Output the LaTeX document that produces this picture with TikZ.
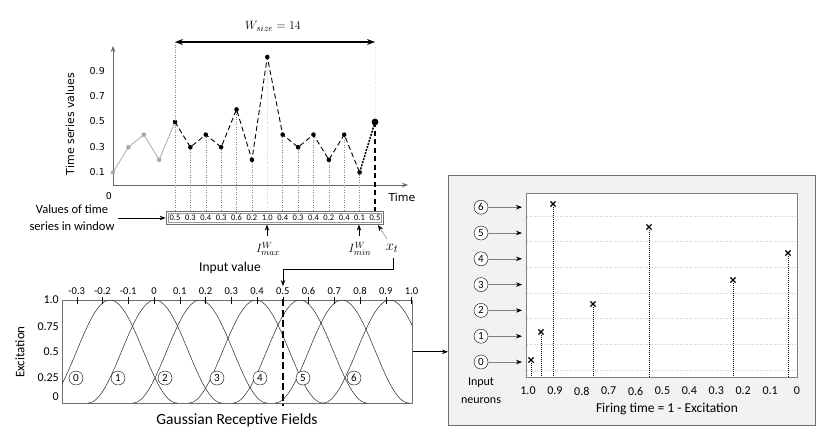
\documentclass[tikz,border=0pt]{standalone}
\usepackage{fontspec}
\setmainfont{Carlito}
\newfontfamily\dv{DejaVu Sans}
\usetikzlibrary{arrows.meta}
\definecolor{sergray}{RGB}{170,170,170}
\definecolor{panelbg}{RGB}{242,242,242}
\definecolor{boxgray}{RGB}{110,110,110}
\begin{document}
\begin{tikzpicture}[x=1pt,y=-1pt,
  dvlbl/.style={inner sep=0pt, font=\dv\fontsize{9.5}{11}\selectfont},
  clbl/.style={inner sep=0pt, font=\fontsize{13}{16}\selectfont},
  tlbl/.style={inner sep=0pt, font=\fontsize{10.5}{12}\selectfont},
  ylbl/.style={inner sep=0pt, font=\fontsize{12}{13}\selectfont},
  vlbl/.style={inner sep=0pt, font=\fontsize{8.5}{9}\selectfont},
  cnum/.style={circle, draw, fill=white, minimum size=14pt, inner sep=0pt, font=\fontsize{11}{11}\selectfont},
  arr/.style={-{Stealth[length=6pt,width=4.5pt]}},
  garr/.style={draw=gray, -{Stealth[length=6pt,width=4.5pt,color=black]}},
  vdot/.style={gray, dotted, line width=0.5pt},
  spk/.style={black, line width=1pt, dash pattern=on 1pt off 1pt},
  grid/.style={gray!40, dotted, line width=0.5pt}]
\useasboundingbox (0,0) rectangle (830,445);

% ---------------- Top chart ----------------
\coordinate (O) at (113,185);
\coordinate (Ytop) at (113,46);
\coordinate (Xend) at (408,185);
\draw[arr, line width=0.6pt, gray!80!black] (O) -- (Ytop);
\draw[arr, line width=0.6pt, gray!80!black] (O) -- (Xend);
\node[inner sep=0pt, font=\dv\fontsize{11}{12}\selectfont, rotate=90] (ylab) at (70,124) {Time series values};
\foreach \v/\yy in {0.9/71,0.7/96,0.5/121,0.3/147,0.1/172}
  \node[dvlbl, anchor=east] (yt\v) at (105,\yy) {\v};
\node[dvlbl] (zero) at (109,196) {0};
\node[inner sep=0pt, font=\dv\fontsize{11}{12}\selectfont] (timelab) at (402,197) {Time};

% grey history
\foreach \i/\v in {0/0.1,1/0.3,2/0.4,3/0.2}
  \coordinate (g\i) at ({113+15.4*\i},{185-126*\v});
\coordinate (p0) at (175,122);
\draw[sergray, line width=0.8pt] (g0) -- (g1) -- (g2) -- (g3) -- (p0);
\foreach \i in {0,...,3} \fill[sergray] (g\i) circle (2.3);

% window points
\foreach \i/\v in {0/0.5,1/0.3,2/0.4,3/0.3,4/0.6,5/0.2,6/1.0,7/0.4,8/0.3,9/0.4,10/0.2,11/0.4,12/0.1,13/0.5}{
  \coordinate (p\i) at ({175+15.385*\i},{185-126*\v});
  \coordinate (b\i) at ({175+15.385*\i},212);
}
\coordinate (p6) at (267.3,57);
\foreach \i in {0,...,12} \draw[vdot] (p\i) -- (b\i);
\draw[line width=1.2pt, dash pattern=on 5pt off 3.5pt] (p13) -- (b13);
\draw[line width=0.9pt, dash pattern=on 5pt off 3pt] (p0) \foreach \i in {1,...,12}{ -- (p\i)};
\draw[line width=1.5pt, dash pattern=on 2pt off 1.2pt] (p12) -- (p13);
\foreach \i in {0,...,12} \fill (p\i) circle (2.3);
\fill (p13) circle (3.4);

% window size arrow
\coordinate (wl) at (175,42);
\coordinate (wr) at (375,42);
\draw[{Stealth[length=8pt,width=6pt]}-{Stealth[length=8pt,width=6pt]}, line width=1.1pt] (wl) -- (wr);
\draw[vdot] (wl) -- (p0);
\draw[vdot] (wr) -- (p13);
\node[inner sep=0pt, font=\fontsize{13}{14}\selectfont] (wsize) at (273,26) {$W_{size} = 14$};

% value box
\node[draw=boxgray, line width=0.8pt, minimum width=217pt, minimum height=12.5pt, inner sep=0pt] (vbox) at (274.5,218) {};
\draw[boxgray!70, line width=0.6pt] (167.8,213.6) rectangle (381.2,222.4);
\foreach \i/\v in {0/0.5,1/0.3,2/0.4,3/0.3,4/0.6,5/0.2,6/1.0,7/0.4,8/0.3,9/0.4,10/0.2,11/0.4,12/0.1,13/0.5}
  \node[vlbl] (val\i) at ({175+15.385*\i},218) {\v};
\node[clbl, font=\fontsize{12.5}{17}\selectfont, align=center] (vlab) at (72,217.5) {Values of time\\series in window};
\coordinate (vla) at (118,218);
\draw[arr, line width=0.8pt] (vla) -- (vbox.west);

% Imax, Imin, xt
\node[inner sep=0pt, font=\fontsize{12.5}{13}\selectfont] (imax) at (268,249) {$I^{W}_{max}$};
\node[inner sep=0pt, font=\fontsize{12.5}{13}\selectfont] (imin) at (360,249) {$I^{W}_{min}$};
\coordinate (imaxt) at (267,236);
\coordinate (imint) at (359,236);
\draw[arr, line width=0.7pt] (imaxt) -- (imaxt |- vbox.south);
\draw[arr, line width=0.7pt] (imint) -- (imint |- vbox.south);
\node[inner sep=0pt, font=\fontsize{15}{16}\selectfont] (xt) at (392,248) {$x_t$};
\coordinate (xtf) at (387,239);
\coordinate (xtt) at (378,225);
\draw[garr, line width=0.5pt] (xtf) -- (xtt);
\node[clbl, font=\fontsize{13.5}{16}\selectfont] (inval) at (230,268) {Input value};
\coordinate (xtb) at (393,258);
\coordinate (inarr) at (283,286);
\draw[arr, line width=0.8pt] (xtb) -- (393,269) -| (inarr);

% ---------------- Gaussian receptive fields ----------------
\node[draw=boxgray, line width=0.6pt, minimum width=350pt, minimum height=103pt, inner sep=0pt, anchor=north west] (grf) at (62,300) {};
\begin{scope}
\clip (62,300) rectangle (412,403);
\foreach \c in {110,155,200,256,300,342,390}
  \draw[line width=0.5pt, black!85] plot[domain={\c-67}:{\c+67}, samples=70, smooth] (\x,{403-51.5*(1+cos(180*(\x-\c)/67))});
\end{scope}
\foreach \v in {-0.3,-0.2,-0.1,0,0.1,0.2,0.3,0.4,0.5,0.6,0.7,0.8,0.9,1.0}{
  \draw[line width=0.5pt] ({154+257.5*\v},297) -- ({154+257.5*\v},304);
  \node[tlbl] at ({154+257.5*\v},291) {\v};
}
\foreach \t/\yy in {1.0/300,0.75/327,0.5/352,0.25/378,0/397}
  \node[ylbl, anchor=east] at (59,\yy) {\t};
\node[clbl, rotate=90] (exc) at (20,352) {Excitation};
\node[clbl, font=\fontsize{15.5}{17}\selectfont] (gtitle) at (237,420) {Gaussian Receptive Fields};
\foreach \k/\xx in {0/76,1/118,2/165,3/217,4/260,5/303,6/354}
  \node[cnum] (c\k) at (\xx,378) {\k};
\coordinate (dtop) at (283,299);
\coordinate (dbot) at (283,406);
\draw[line width=1.8pt, dash pattern=on 7pt off 3.5pt] (dtop) -- (dbot);

% ---------------- Right panel ----------------
\node[draw=boxgray, line width=0.7pt, fill=panelbg, minimum width=367pt, minimum height=250pt, inner sep=0pt, anchor=north west] (panel) at (448,175) {};
\draw[arr, line width=0.8pt] (grf.east) -- (panel.west |- grf.east);
\node[draw=gray, line width=0.6pt, fill=white, minimum width=271pt, minimum height=184pt, inner sep=0pt, anchor=north west] (inner) at (526,193) {};
\foreach \yy in {216,241,267,293,318,344,370}
  \draw[grid] (527,\yy) -- (796,\yy);
\foreach \k in {0,...,6}{
  \node[cnum] (n\k) at (481,{362-25.8*\k}) {\k};
  \coordinate (na\k) at (522,{362-25.8*\k});
  \draw[garr, line width=0.6pt] (n\k.east) -- (na\k);
}
\foreach \s/\xx/\yy in {0/531/360,1/541/332,6/553/204,2/593/304,5/649/227,3/733/280,4/788/253}{
  \coordinate (s\s) at (\xx,\yy);
  \coordinate (sb\s) at (\xx,377);
  \draw[spk] ([yshift=-3pt]s\s) -- (sb\s);
  \draw[line width=1.3pt] ([shift={(-2.6,-2.6)}]s\s) -- ([shift={(2.6,2.6)}]s\s);
  \draw[line width=1.3pt] ([shift={(-2.6,2.6)}]s\s) -- ([shift={(2.6,-2.6)}]s\s);
}
\foreach \t in {1.0,0.9,0.8,0.7,0.6,0.5,0.4,0.3,0.2,0.1,0}
  \node[inner sep=0pt, font=\fontsize{12}{13}\selectfont] at ({528+(1-\t)*269},391) {\t};
\node[inner sep=0pt, font=\fontsize{12}{18}\selectfont, align=center] (inneur) at (481,391) {Input\\neurons};
\node[inner sep=0pt, font=\fontsize{13.5}{15}\selectfont] (ftime) at (667,409) {Firing time = 1 - Excitation};
\end{tikzpicture}
\end{document}
